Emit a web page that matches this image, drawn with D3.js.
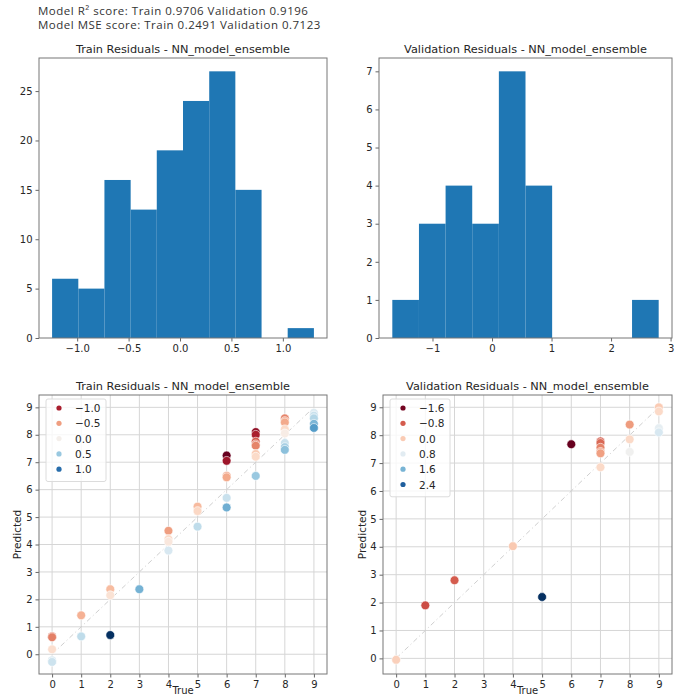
<!DOCTYPE html>
<html>
<head>
<meta charset="utf-8">
<script src="https://cdn.jsdelivr.net/npm/d3@7"></script>
<style>
  body { margin: 0; background: #fff; }
  svg text { font-family: "DejaVu Sans", sans-serif; fill: #262626; }
  .header { font-family: "Open Sans", sans-serif; font-size: 11.5px; letter-spacing: 0.5px; fill: #333; }
</style>
</head>
<body>
<div id="chart"></div>
<script>
// histogram bins (edges + counts)
var trainEdges = [-1.244, -0.989, -0.735, -0.480, -0.226, 0.029, 0.284, 0.538, 0.793, 1.047, 1.302];
var trainCounts = [6, 5, 16, 13, 19, 24, 27, 15, 0, 1];
var valEdges = [-1.675, -1.2275, -0.78, -0.3325, 0.115, 0.5625, 1.01, 1.4575, 1.905, 2.3525, 2.80];
var valCounts = [1, 3, 4, 3, 7, 4, 0, 0, 0, 1];

// scatter: true vs predicted
var trainTrue = [0, 0, 0, 0, 0, 1, 1, 2, 2, 2, 3, 4, 4, 4, 4, 5, 5, 5,
    6, 6, 6, 6, 6, 6, 7, 7, 7, 7, 7, 7, 7, 7, 8, 8, 8, 8, 8, 8, 8, 8, 9, 9, 9, 9, 9];
var trainPred = [0.65, 0.62, 0.18, -0.22, -0.28, 1.42, 0.65, 2.37, 2.15, 0.70, 2.37, 4.5, 4.2, 4.1, 3.78, 5.38, 5.22, 4.65,
    7.244, 7.05, 6.5, 6.45, 5.7, 5.35, 8.1, 8.0, 7.75, 7.65, 7.6, 7.3, 7.2, 6.5, 8.6, 8.5, 8.45, 8.2, 8.05, 7.7, 7.55, 7.45, 8.8, 8.7, 8.6, 8.4, 8.25];
var valTrue = [0, 1, 2, 4, 5, 6, 7, 7, 7, 7, 7, 7, 8, 8, 8, 9, 9, 9, 9];
var valPred = [-0.05, 1.9, 2.8, 4.02, 2.2, 7.675, 7.78, 7.72, 7.55, 7.4, 7.35, 6.85, 8.38, 7.85, 7.4, 9.0, 8.85, 8.25, 8.1];

var trainLegend = [-1.0, -0.5, 0.0, 0.5, 1.0];
var valLegend = [-1.6, -0.8, 0.0, 0.8, 1.6, 2.4];

var trainHistXTicks = [-1.0, -0.5, 0.0, 0.5, 1.0];
var trainHistYTicks = [0, 5, 10, 15, 20, 25];
var valHistXTicks = [-1, 0, 1, 2, 3];
var valHistYTicks = [0, 1, 2, 3, 4, 5, 6, 7];
var scatterTicks = [0, 1, 2, 3, 4, 5, 6, 7, 8, 9];

var headerLines = ["Model R\u00b2 score: Train 0.9706 Validation 0.9196",
    "Model MSE score: Train 0.2491 Validation 0.7123"];

var svg = d3.select("#chart").append("svg")
    .attr("width", 684)
    .attr("height", 696);

svg.selectAll("text.header")
    .data(headerLines)
    .enter()
    .append("text")
    .attr("class", "header")
    .attr("x", 38)
    .attr("y", function (d, i) { return 15 + i * 13.5; })
    .text(function (d) { return d; });

function fmtTick(decimals) {
    return function (d) {
        var s = decimals ? d.toFixed(decimals) : String(d);
        return s.replace("-", "\u2212");
    };
}

function frame(g, w, h) {
    g.append("rect")
        .attr("width", w).attr("height", h)
        .attr("fill", "none")
        .attr("stroke", "#777")
        .attr("stroke-width", 1);
}

function styleAxis(ax) {
    ax.select(".domain").remove();
    ax.selectAll(".tick line").attr("stroke", "#666");
    ax.selectAll(".tick text").style("font-size", "10px").attr("fill", "#262626");
}

function drawHist(box, edges, counts, xTicks, yTicks, xDec, title) {
    var w = box.w, h = box.h;
    var g = svg.append("g").attr("transform", "translate(" + box.x + "," + box.y + ")");
    var lo = edges[0], hi = edges[edges.length - 1], pad = (hi - lo) * 0.05;
    var x = d3.scaleLinear().domain([lo - pad, hi + pad]).range([0, w]);
    var y = d3.scaleLinear().domain([0, d3.max(counts) * 1.05]).range([h, 0]);

    g.selectAll("rect.bar")
        .data(counts)
        .enter()
        .append("rect")
        .attr("class", "bar")
        .attr("x", function (d, i) { return x(edges[i]); })
        .attr("width", function (d, i) { return x(edges[i + 1]) - x(edges[i]); })
        .attr("y", function (d) { return y(d); })
        .attr("height", function (d) { return h - y(d); })
        .attr("fill", "#1f77b4");

    var xa = g.append("g").attr("transform", "translate(0," + h + ")")
        .call(d3.axisBottom(x).tickValues(xTicks).tickSize(3.5).tickPadding(3).tickFormat(fmtTick(xDec)));
    styleAxis(xa);
    var ya = g.append("g")
        .call(d3.axisLeft(y).tickValues(yTicks).tickSize(3.5).tickPadding(3).tickFormat(fmtTick(0)));
    styleAxis(ya);
    frame(g, w, h);

    g.append("text")
        .attr("x", w / 2).attr("y", -5)
        .attr("text-anchor", "middle")
        .style("font-size", "11.3px")
        .text(title);
}

function drawScatter(box, truth, pred, yDom, legendVals, legendBox, title) {
    var w = box.w, h = box.h;
    var g = svg.append("g").attr("transform", "translate(" + box.x + "," + box.y + ")");
    var x = d3.scaleLinear().domain([-0.45, 9.45]).range([0, w]);
    var y = d3.scaleLinear().domain(yDom).range([h, 0]);

    var resid = truth.map(function (t, i) { return t - pred[i]; });
    var color = d3.scaleSequential(d3.interpolateRdBu).domain(d3.extent(resid));

    // grid
    g.selectAll("line.gx").data(scatterTicks).enter().append("line")
        .attr("x1", function (d) { return x(d); }).attr("x2", function (d) { return x(d); })
        .attr("y1", 0).attr("y2", h)
        .attr("stroke", "#d6d6d6").attr("stroke-width", 1);
    g.selectAll("line.gy").data(scatterTicks).enter().append("line")
        .attr("y1", function (d) { return y(d); }).attr("y2", function (d) { return y(d); })
        .attr("x1", 0).attr("x2", w)
        .attr("stroke", "#d6d6d6").attr("stroke-width", 1);

    // identity line
    g.append("line")
        .attr("x1", x(0)).attr("y1", y(0))
        .attr("x2", x(9)).attr("y2", y(9))
        .attr("stroke", "#cfcfcf")
        .attr("stroke-width", 1)
        .attr("stroke-dasharray", "5,3,1,3");

    g.selectAll("circle.pt")
        .data(truth)
        .enter()
        .append("circle")
        .attr("class", "pt")
        .attr("cx", function (d) { return x(d); })
        .attr("cy", function (d, i) { return y(pred[i]); })
        .attr("r", 4.4)
        .attr("fill", function (d, i) { return color(resid[i]); })
        .attr("stroke", "#fff")
        .attr("stroke-width", 0.6);

    var xa = g.append("g").attr("transform", "translate(0," + h + ")")
        .call(d3.axisBottom(x).tickValues(scatterTicks).tickSize(3.5).tickPadding(3));
    styleAxis(xa);
    var ya = g.append("g")
        .call(d3.axisLeft(y).tickValues(scatterTicks).tickSize(3.5).tickPadding(3));
    styleAxis(ya);
    frame(g, w, h);

    g.append("text")
        .attr("x", w / 2).attr("y", -5)
        .attr("text-anchor", "middle")
        .style("font-size", "11.3px")
        .text(title);

    g.append("text")
        .attr("transform", "translate(" + (-box.labelOff) + "," + (h / 2) + ") rotate(-90)")
        .attr("text-anchor", "middle")
        .style("font-size", "10.5px")
        .text("Predicted");
    g.append("text")
        .attr("x", w / 2).attr("y", h + 20)
        .attr("text-anchor", "middle")
        .style("font-size", "10px")
        .text("True");

    // legend
    var lg = g.append("g").attr("transform", "translate(" + legendBox.x + "," + legendBox.y + ")");
    lg.append("rect")
        .attr("width", legendBox.w)
        .attr("height", legendVals.length * 15.3 + 6)
        .attr("rx", 2)
        .attr("fill", "#fff").attr("fill-opacity", 0.8)
        .attr("stroke", "#dcdcdc");
    var items = lg.selectAll("g.item")
        .data(legendVals)
        .enter()
        .append("g")
        .attr("transform", function (d, i) { return "translate(0," + (9 + i * 15.3) + ")"; });
    items.append("circle")
        .attr("cx", 13).attr("cy", 0).attr("r", 2.6)
        .attr("fill", function (d) { return color(d); });
    items.append("text")
        .attr("x", 29).attr("y", 4)
        .style("font-size", "10.5px")
        .text(function (d) { return d.toFixed(1).replace("-", "\u2212"); });
}

drawHist({ x: 39, y: 58, w: 288, h: 280 }, trainEdges, trainCounts, trainHistXTicks, trainHistYTicks, 1,
    "Train Residuals - NN_model_ensemble");
drawHist({ x: 379, y: 58, w: 293, h: 280 }, valEdges, valCounts, valHistXTicks, valHistYTicks, 0,
    "Validation Residuals - NN_model_ensemble");

drawScatter({ x: 39, y: 395, w: 288, h: 279, labelOff: 18 }, trainTrue, trainPred, [-0.72, 9.45],
    trainLegend, { x: 7, y: 4, w: 60 }, "Train Residuals - NN_model_ensemble");
drawScatter({ x: 383, y: 395, w: 289, h: 279, labelOff: 17 }, valTrue, valPred, [-0.56, 9.44],
    valLegend, { x: 7, y: 4, w: 60 }, "Validation Residuals - NN_model_ensemble");
</script>
</body>
</html>
